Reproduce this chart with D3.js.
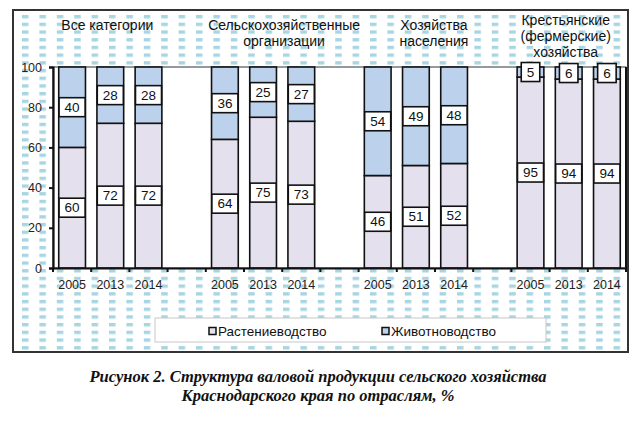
<!DOCTYPE html>
<html><head><meta charset="utf-8">
<script src="https://cdn.jsdelivr.net/npm/d3@7"></script>
<style>
html,body{margin:0;padding:0;background:#fff;}
svg{display:block;}
</style></head>
<body>
<script>
// ---- data ----
const groups = ["Все категории", "Сельскохозяйственные организации", "Хозяйства населения", "Крестьянские (фермерские) хозяйства"];
const groupTitleLines = [["Все категории"], ["Сельскохозяйственные", "организации"], ["Хозяйства", "населения"], ["Крестьянские", "(фермерские)", "хозяйства"]];
const years = ["2005", "2013", "2014"];
const cropValues = [[60, 72, 72], [64, 75, 73], [46, 51, 52], [95, 94, 94]];        // Растениеводство
const livestockValues = [[40, 28, 28], [36, 25, 27], [54, 49, 48], [5, 6, 6]];     // Животноводство
const seriesNames = ["Растениеводство", "Животноводство"];
const yTicks = [0, 20, 40, 60, 80, 100];
const captionLines = ["Рисунок 2. Структура валовой продукции сельского хозяйства", "Краснодарского края по отраслям, %"];

// ---- layout ----
const W = 636, H = 422;
const plot = {left: 53, right: 626, top: 67, bottom: 268};
const colors = {crop: "#e4e0ed", livestock: "#bcd1ec"};
const titleOffsets = [-3, 21, 18, -3];

const svg = d3.select("body").append("svg").attr("width", W).attr("height", H)
  .style("font-family", "'Liberation Sans', Arial, sans-serif");

const defs = svg.append("defs");
const pat = defs.append("pattern").attr("id", "dash").attr("patternUnits", "userSpaceOnUse")
  .attr("x", 22).attr("y", 15).attr("width", 17.4).attr("height", 7.7);
pat.append("rect").attr("x", 0).attr("y", 0).attr("width", 6.5).attr("height", 3.4).attr("fill", "#a8d5e2");

// outer frame
svg.append("rect").attr("x", 13).attr("y", 10).attr("width", 615).attr("height", 342)
  .attr("fill", "#fff");
svg.append("rect").attr("x", 13).attr("y", 10).attr("width", 615).attr("height", 342)
  .attr("fill", "url(#dash)").attr("stroke", "#333").attr("stroke-width", 2);

// build categories: 3 years per group with an empty band between groups
const keys = [];
const bars = [];
groups.forEach((g, gi) => {
  years.forEach((y, yi) => {
    const k = gi + "_" + y;
    keys.push(k);
    bars.push({key: k, gi, year: y, crop: cropValues[gi][yi], livestock: livestockValues[gi][yi]});
  });
  if (gi < groups.length - 1) keys.push("gap" + gi);
});

const x = d3.scaleBand().domain(keys).range([plot.left, plot.right]).paddingInner(0.3).paddingOuter(0.15);
const yS = d3.scaleLinear().domain([0, 100]).range([plot.bottom, plot.top]);

// plot area
svg.append("rect").attr("x", plot.left).attr("y", plot.top)
  .attr("width", plot.right - plot.left).attr("height", plot.bottom - plot.top)
  .attr("fill", "#fff").attr("stroke", "#333").attr("stroke-width", 1);
svg.append("line").attr("x1", plot.right).attr("x2", plot.right).attr("y1", plot.top).attr("y2", plot.bottom)
  .attr("stroke", "#111").attr("stroke-width", 2);

// bars
const bg = svg.append("g");
bars.forEach(d => {
  const bx = x(d.key), bw = x.bandwidth();
  bg.append("rect").attr("x", bx).attr("y", yS(d.crop)).attr("width", bw).attr("height", yS(0) - yS(d.crop))
    .attr("fill", colors.crop).attr("stroke", "#111").attr("stroke-width", 1.6);
  bg.append("rect").attr("x", bx).attr("y", yS(d.crop + d.livestock)).attr("width", bw).attr("height", yS(d.crop) - yS(d.crop + d.livestock))
    .attr("fill", colors.livestock).attr("stroke", "#111").attr("stroke-width", 1.6);
});

// value labels
const lg = svg.append("g").style("font-size", "13.5px");
function label(cx, cy, v) {
  const t = lg.append("text").attr("x", cx).attr("y", cy).attr("text-anchor", "middle")
    .attr("dominant-baseline", "central").attr("fill", "#111").text(v);
  const tw = t.node().getComputedTextLength();
  const bw = tw + 11, bh = 19;
  lg.insert("rect", function(){ return t.node(); }).attr("x", cx - bw / 2).attr("y", cy - bh / 2)
    .attr("width", bw).attr("height", bh).attr("fill", "#fff").attr("stroke", "#111").attr("stroke-width", 1.6);
}
bars.forEach(d => {
  const cx = x(d.key) + x.bandwidth() / 2;
  label(cx, yS(d.crop / 2), d.crop);
  label(cx, yS(d.crop + d.livestock / 2), d.livestock);
});

// y axis
const yAxis = svg.append("g").attr("transform", `translate(${plot.left},0)`)
  .call(d3.axisLeft(yS).tickValues(yTicks).tickSize(4).tickPadding(7));
yAxis.select(".domain").attr("stroke", "#111").attr("stroke-width", 2.2);
yAxis.selectAll(".tick line").attr("stroke", "#111").attr("stroke-width", 2);
yAxis.selectAll(".tick text").attr("fill", "#222").style("font-size", "12.5px")
  .style("font-family", "'Liberation Sans', Arial, sans-serif");

// x axis
const xAxis = svg.append("g").attr("transform", `translate(0,${plot.bottom})`)
  .call(d3.axisBottom(x).tickSize(0).tickPadding(12).tickFormat(k => k.startsWith("gap") ? "" : k.split("_")[1]));
xAxis.select(".domain").attr("stroke", "#111").attr("stroke-width", 2.2);
xAxis.selectAll(".tick text").attr("fill", "#222").style("font-size", "12.5px")
  .style("font-family", "'Liberation Sans', Arial, sans-serif");
// boundary ticks
const step = x.step();
const boundaries = d3.range(keys.length + 1).map(i => plot.left + i * step);
xAxis.selectAll(".bt").data(boundaries).enter().append("line")
  .attr("x1", d => d).attr("x2", d => d).attr("y1", 0).attr("y2", 4)
  .attr("stroke", "#111").attr("stroke-width", 2);

// group titles
const tg = svg.append("g").style("font-size", "14px").attr("fill", "#111");
groupTitleLines.forEach((lines, gi) => {
  const mid = x(gi + "_2013") + x.bandwidth() / 2 + titleOffsets[gi];
  const n = lines.length;
  const startY = n === 3 ? 20 : 25;
  lines.forEach((ln, li) => {
    tg.append("text").attr("x", mid).attr("y", startY + li * 16).attr("text-anchor", "middle")
      .attr("dominant-baseline", "central").text(ln);
  });
});

// legend
const leg = svg.append("g");
leg.append("rect").attr("x", 155).attr("y", 318).attr("width", 391).attr("height", 24)
  .attr("fill", "#fff").attr("stroke", "#c8c8c8").attr("stroke-width", 1);
const legX = [209, 382];
seriesNames.forEach((s, i) => {
  leg.append("rect").attr("x", legX[i]).attr("y", 327.5).attr("width", 7).attr("height", 7)
    .attr("fill", i === 0 ? colors.crop : colors.livestock).attr("stroke", "#111").attr("stroke-width", 1.5);
  leg.append("text").attr("x", legX[i] + 9).attr("y", 331).attr("dominant-baseline", "central")
    .style("font-size", "13.5px").attr("fill", "#111").text(s);
});

// caption
captionLines.forEach((c, i) => {
  svg.append("text").attr("x", 318).attr("y", 382 + i * 19).attr("text-anchor", "middle")
    .style("font-family", "'Liberation Serif', 'Times New Roman', serif")
    .style("font-weight", "bold").style("font-style", "italic").style("font-size", "16.5px")
    .attr("fill", "#111").text(c);
});
</script>
</body></html>
